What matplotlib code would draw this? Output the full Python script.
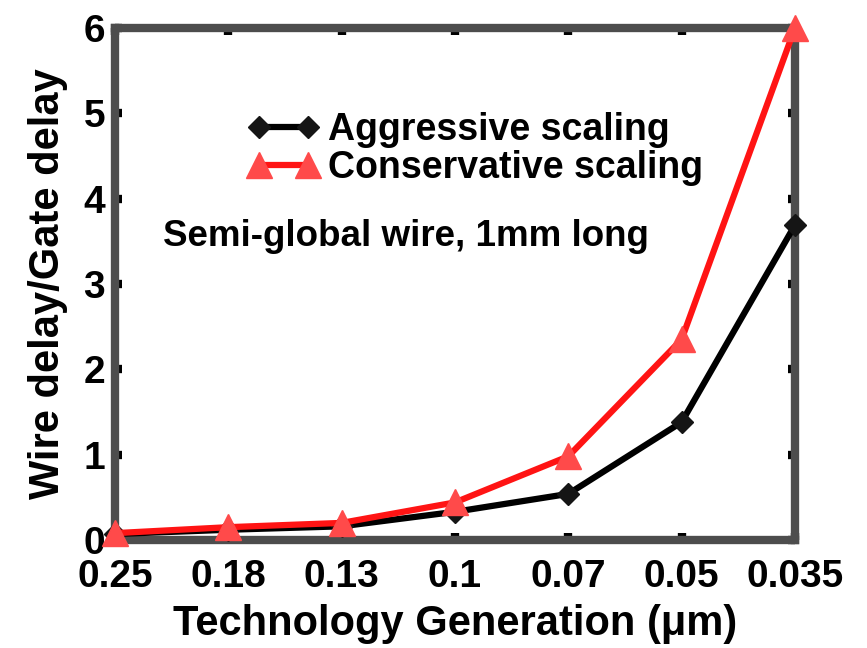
import numpy as np
import matplotlib.pyplot as plt

plt.rcParams['font.family'] = ['Liberation Sans', 'DejaVu Sans']
plt.rcParams['font.weight'] = 'bold'

generations = ['0.25', '0.18', '0.13', '0.1', '0.07', '0.05', '0.035']
aggressive = [0.07, 0.12, 0.16, 0.33, 0.54, 1.38, 3.69]
conservative = [0.08, 0.15, 0.20, 0.44, 0.98, 2.35, 6.0]

x = np.arange(len(generations))

fig = plt.figure(figsize=(8.67, 6.48), dpi=100)
ax = fig.add_axes([0.1326, 0.1667, 0.7843, 0.7903])

ax.plot(x, aggressive, color='black', lw=4.5, marker='D', ms=11,
        mfc='#151515', mec='#151515', clip_on=False, zorder=3,
        label='Aggressive scaling')
ax.plot(x, conservative, color='#ff1414', lw=4.5, marker='^', ms=19,
        mfc='#ff4a4a', mec='#ff4a4a', clip_on=False, zorder=4,
        label='Conservative scaling')

ax.set_xlim(0, 6)
ax.set_ylim(0, 6)
ax.set_xticks(x)
ax.set_xticklabels(generations)
ax.set_yticks(range(7))

for s in ax.spines.values():
    s.set_color('#4d4d4d')
    s.set_linewidth(6)
    s.set_zorder(2)

ax.tick_params(direction='in', length=5, width=6, color='black',
               top=True, right=True, labelsize=28)
ax.tick_params(axis='x', pad=14)
ax.tick_params(axis='y', pad=7)
for lbl in ax.get_xticklabels() + ax.get_yticklabels():
    lbl.set_fontweight('bold')

ax.set_xlabel('Technology Generation (\u03bcm)', fontsize=30, fontweight='bold', labelpad=6)
ax.set_ylabel('Wire delay/Gate delay', fontsize=30, fontweight='bold', labelpad=11)

leg = ax.legend(loc='center left', bbox_to_anchor=(0.195, 0.764), frameon=False,
                fontsize=27, handlelength=1.9, numpoints=2, handletextpad=0.25,
                labelspacing=0.05, borderaxespad=0, borderpad=0)
for t in leg.get_texts():
    t.set_fontweight('bold')

ax.text(0.07, 0.592, 'Semi-global wire, 1mm long', transform=ax.transAxes,
        fontsize=26.5, fontweight='bold', va='center')

fig.savefig('out.png', dpi=100)
